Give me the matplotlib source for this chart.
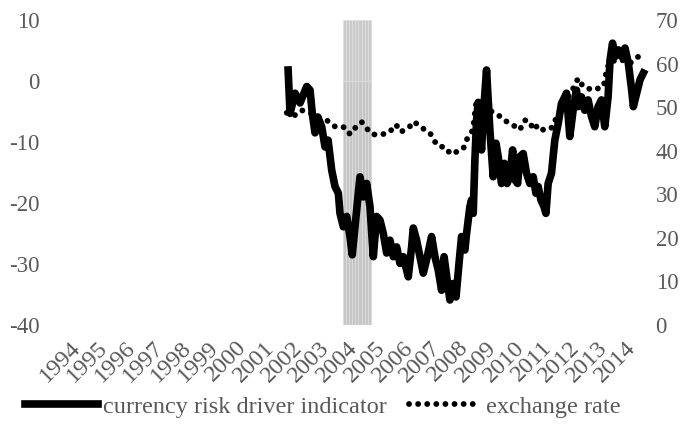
import matplotlib
matplotlib.use('Agg')
import matplotlib.pyplot as plt

# currency risk driver indicator (left axis)
risk_years = [2001.61, 2001.68, 2001.86, 2002.04, 2002.28, 2002.40, 2002.48, 2002.58, 2002.68, 2002.82,
              2002.94, 2003.05, 2003.18, 2003.30, 2003.42, 2003.48, 2003.60, 2003.72, 2003.84, 2003.92,
              2004.02, 2004.14, 2004.20, 2004.32, 2004.44, 2004.56, 2004.68, 2004.80, 2004.92, 2005.04,
              2005.16, 2005.28, 2005.40, 2005.52, 2005.64, 2005.76, 2005.94, 2006.06, 2006.12, 2006.24,
              2006.36, 2006.48, 2006.60, 2006.78, 2006.90, 2007.02, 2007.14, 2007.23, 2007.34, 2007.44,
              2007.56, 2007.66, 2007.78, 2007.86, 2007.98, 2008.04, 2008.16, 2008.22, 2008.28, 2008.34,
              2008.40, 2008.46, 2008.58, 2008.64, 2008.76, 2008.82, 2008.88, 2009.00, 2009.10, 2009.18,
              2009.30, 2009.40, 2009.50, 2009.60, 2009.70, 2009.78, 2009.88, 2009.96, 2010.08, 2010.20,
              2010.32, 2010.44, 2010.54, 2010.62, 2010.72, 2010.83, 2010.90, 2010.98, 2011.10, 2011.22,
              2011.34, 2011.46, 2011.58, 2011.64, 2011.76, 2011.88, 2012.00, 2012.06, 2012.18, 2012.30,
              2012.42, 2012.54, 2012.66, 2012.78, 2012.90, 2013.02, 2013.14, 2013.21, 2013.30, 2013.39,
              2013.51, 2013.63, 2013.75, 2013.87, 2013.99, 2014.05, 2014.17, 2014.29, 2014.41]
risk_values = [1.8, -5.3, -2.0, -3.6, -0.9, -1.5, -5.3, -8.5, -5.9, -7.5,
               -10.8, -9.7, -14.6, -17.3, -18.4, -21.7, -23.9, -22.2, -25.5, -28.5,
               -23.9, -18.4, -15.7, -19.0, -16.8, -20.6, -28.8, -22.2, -22.8, -25.0,
               -28.2, -26.1, -28.8, -27.2, -29.9, -28.8, -32.1, -27.2, -24.1, -26.1,
               -28.8, -31.5, -29.3, -25.5, -28.8, -31.0, -34.3, -28.8, -32.6, -35.9,
               -33.2, -35.4, -29.3, -25.5, -27.7, -25.0, -20.6, -19.5, -21.7, -13.0,
               -6.5, -3.5, -11.3, -5.8, 1.8, -3.1, -8.0, -15.7, -10.2, -12.4,
               -16.8, -13.5, -16.8, -15.7, -11.3, -16.2, -16.8, -12.4, -11.9, -15.1,
               -16.8, -15.7, -18.4, -17.3, -19.5, -20.6, -21.7, -16.8, -15.1, -9.7,
               -7.0, -3.7, -2.6, -2.0, -9.1, -4.8, -1.5, -4.2, -2.6, -4.8,
               -3.1, -5.8, -7.5, -4.2, -3.1, -7.5, -2.6, 3.4, 6.2, 4.0,
               5.1, 4.0, 5.4, 2.9, -1.5, -4.2, -2.0, 0.2, 1.3]

# exchange rate (right axis)
fx_years = [2001.56, 2001.82, 2002.09, 2002.40, 2002.76, 2003.05, 2003.33, 2003.66, 2003.84, 2004.02,
            2004.26, 2004.51, 2004.62, 2004.88, 2005.24, 2005.50, 2005.66, 2005.95, 2006.14, 2006.42,
            2006.72, 2006.88, 2007.06, 2007.26, 2007.47, 2007.74, 2007.92, 2008.04, 2008.27, 2008.34,
            2008.40, 2008.60, 2008.80, 2008.94, 2009.12, 2009.30, 2009.48, 2009.66, 2009.84, 2009.96,
            2010.14, 2010.32, 2010.44, 2010.62, 2010.80, 2010.98, 2011.16, 2011.28, 2011.46, 2011.64,
            2011.88, 2012.06, 2012.24, 2012.42, 2012.60, 2012.78, 2012.97, 2013.03, 2013.09, 2013.27,
            2013.45, 2013.69, 2013.93, 2014.23]
fx_values = [48.7, 48.0, 49.3, 48.7, 47.5, 46.8, 45.4, 45.4, 43.8, 45.2,
             46.6, 44.6, 43.8, 43.6, 44.1, 46.0, 44.3, 45.2, 46.7, 45.3,
             44.1, 42.2, 40.9, 40.9, 39.2, 39.9, 40.4, 42.5, 44.8, 48.7,
             51.6, 50.5, 51.0, 49.0, 48.2, 47.8, 46.7, 45.9, 45.5, 44.8,
             47.0, 46.7, 44.8, 45.9, 44.8, 44.8, 45.5, 47.8, 49.3, 51.6,
             54.3, 56.6, 54.7, 54.3, 53.9, 54.3, 54.7, 56.2, 58.9, 60.8,
             60.4, 60.8, 60.1, 61.6]

# shaded period (columns)
crisis_x = [2003.65, 2003.76, 2003.87, 2003.98, 2004.09, 2004.20, 2004.31, 2004.42, 2004.53]
crisis_top = 10
crisis_bottom = -40

years = list(range(1994, 2015))

plt.rcParams['font.family'] = ['Liberation Serif', 'DejaVu Serif']
plt.rcParams['axes.unicode_minus'] = False
grey = '#595959'

fig = plt.figure(figsize=(6.91, 4.26), dpi=100)
ax = fig.add_axes([55 / 691, 1 - 325 / 426, 595 / 691, 305 / 426])
ax2 = ax.twinx()

ax.bar(crisis_x, [crisis_top] * len(crisis_x), width=0.11, color='#cacaca',
       edgecolor='#e0e0e0', linewidth=0.6, zorder=1)
ax.bar(crisis_x, [crisis_bottom] * len(crisis_x), width=0.11, color='#c6c6c6',
       edgecolor='#dcdcdc', linewidth=0.6, zorder=1)
ln1, = ax.plot(risk_years, risk_values, color='black', linewidth=5.5,
               solid_joinstyle='round', zorder=3, label='currency risk driver indicator')
ln2, = ax2.plot(fx_years, fx_values, color='black', linewidth=4.2,
                linestyle=(0, (0.01, 1.55)), dash_capstyle='round',
                label='exchange rate')

ax.set_xlim(1993.21, 2014.65)
ax.set_ylim(-40, 10)
ax.set_yticks(range(-40, 11, 10))
ax2.set_ylim(0, 70)
ax2.set_yticks(range(0, 71, 10))
ax.set_xticks(years)
ax.set_xticklabels([str(y) for y in years], rotation=45, ha='right', va='center',
                   rotation_mode='anchor')

for a in (ax, ax2):
    for s in a.spines.values():
        s.set_visible(False)
    a.tick_params(length=0, labelsize=16.5, labelcolor=grey)
ax.tick_params(axis='x', labelsize=17.5, pad=14)
ax.tick_params(axis='y', pad=11)
ax2.tick_params(axis='y', pad=4)

fig.legend(handles=[ln1, ln2], loc='center', bbox_to_anchor=(323 / 691, 0.045),
           ncol=2, frameon=False, fontsize=17.5, labelcolor=grey,
           handlelength=3.0, handletextpad=0.2, columnspacing=0.9)

fig.savefig('out.png', dpi=100)
